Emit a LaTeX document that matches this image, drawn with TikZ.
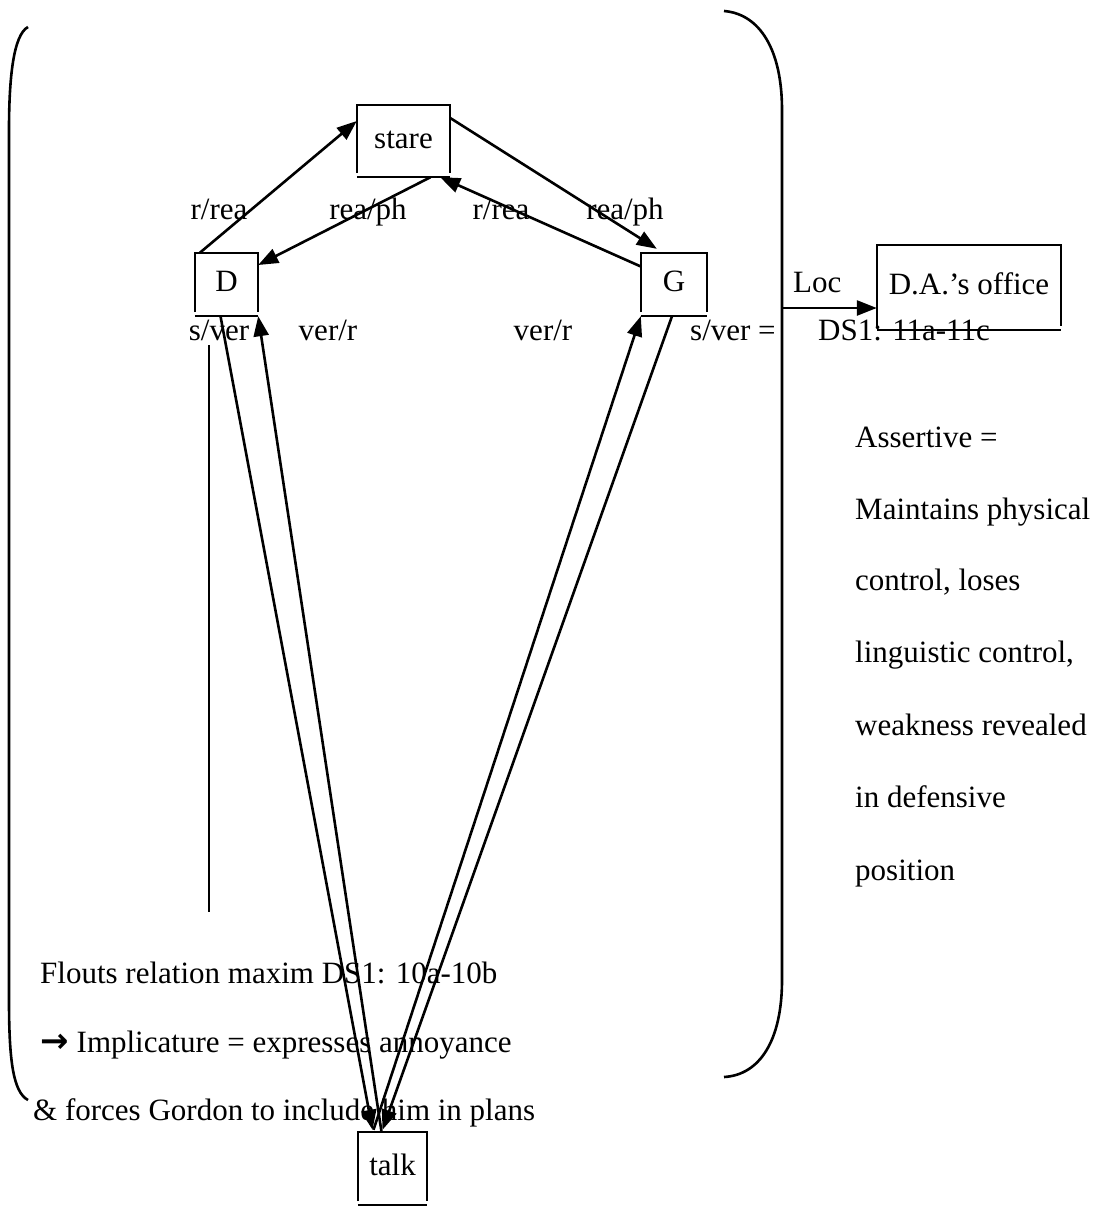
\documentclass[tikz,border=0pt]{standalone}
\usepackage{fontspec}
\setmainfont{Liberation Serif}
\newfontfamily\symfont{DejaVu Sans}
\usetikzlibrary{arrows.meta}
\begin{document}
\begin{tikzpicture}[x=1pt,y=-1pt,
  every node/.style={font=\fontsize{31}{37}\selectfont, inner sep=0pt,
    text height=21pt, text depth=7pt},
  wbox/.style={rectangle},
  lbl/.style={anchor=center},
  txt/.style={anchor=west},
  conn/.style={line width=2.6pt, -{Triangle[length=20pt,width=15pt]}},
  rule/.style={line width=2.4pt}]
\useasboundingbox (0,0) rectangle (1107,1207);

% boxes
\node[wbox, minimum width=93pt, minimum height=72pt] (stare) at (403.5,141) {stare};
\node[wbox, minimum width=63pt, minimum height=63pt] (D) at (226.5,284.5) {D};
\node[wbox, minimum width=66pt, minimum height=63pt] (G) at (674,284.5) {G};
\node[wbox, minimum width=184pt, minimum height=85pt] (office) at (969,287.5) {D.A.'s office};
\node[wbox, minimum width=69pt, minimum height=73pt] (talk) at (392.5,1168.5) {talk};

% box borders: sides stop short of a separate bottom rule
\foreach \n in {stare,D,G,office,talk} {
  \draw[rule] ([yshift=4pt]\n.south west) -- (\n.north west) -- (\n.north east) -- ([yshift=4pt]\n.south east);
  \draw[rule] (\n.south west) -- (\n.south east);
}

% brackets
\draw[line width=2.6pt] (28,27) .. controls (13,35) and (9,80) .. (9,130) -- (9,1000)
  .. controls (9,1060) and (13,1092) .. (28,1100);
\draw[line width=2.6pt] (724,11) .. controls (760,14) and (782,50) .. (782,110) -- (782,980)
  .. controls (782,1040) and (760,1075) .. (724,1077);
\coordinate (brk) at (783,308);

% connectors around stare
\draw[conn] ([xshift=5pt]D.north west) -- ([yshift=20pt]stare.west);
\draw[conn] ([xshift=27pt]stare.south) -- ([yshift=19.5pt]D.east);
\draw[conn] ([yshift=18pt]G.west) -- ([xshift=-10pt]stare.south east);
\draw[conn] ([yshift=23pt]stare.east) -- ([xshift=16pt,yshift=4pt]G.north west);

% connectors to and from talk
\draw[conn] ([xshift=-6pt]D.south) -- ([xshift=-20pt,yshift=2pt]talk.north);
\draw[conn] ([xshift=-11pt]talk.north) -- (D.south east);
\draw[conn] ([xshift=-2pt]G.south) -- ([xshift=-10pt,yshift=2pt]talk.north);
\draw[conn] ([xshift=-19pt,yshift=2pt]talk.north) -- (G.south west);

% location
\draw[conn] (brk) -- ([yshift=-20.5pt]office.west);
\node[txt] (loc) at (793,285) {Loc};

% edge labels
\node[lbl] (l1) at (219,212) {r/rea};
\node[lbl] (l2) at (368,212) {rea/ph};
\node[lbl] (l3) at (501,212) {r/rea};
\node[lbl] (l4) at (625,212) {rea/ph};
\node[lbl] (l5) at (219,333) {s/ver};
\node[lbl] (l6) at (328,333) {ver/r};
\node[lbl] (l7) at (543,333) {ver/r};
\node[txt] (l8) at (690,333) {s/ver =};
\node[txt] (ds11) at (818,333) {DS1: 11a-11c};

% right-hand commentary
\node[txt] (r1) at (855,440) {Assertive =};
\node[txt] (r2) at (855,512) {Maintains physical};
\node[txt] (r3) at (855,583) {control, loses};
\node[txt] (r4) at (855,655) {linguistic control,};
\node[txt] (r5) at (855,728) {weakness revealed};
\node[txt] (r6) at (855,800) {in defensive};
\node[txt] (r7) at (855,873) {position};

% lower-left commentary
\coordinate (vtop) at (209,345);
\coordinate (vbot) at (209,912);
\draw[line width=2pt] (vtop) -- (vbot);
\node[txt] (b1) at (40,976) {Flouts relation maxim DS1: 10a-10b};
\node[txt] (b2) at (40,1045) {{\symfont\bfseries\fontsize{34}{37}\selectfont →}\hspace{8pt}Implicature = expresses annoyance};
\node[txt] (b3) at (33,1113) {\& forces Gordon to include him in plans};
\end{tikzpicture}
\end{document}
